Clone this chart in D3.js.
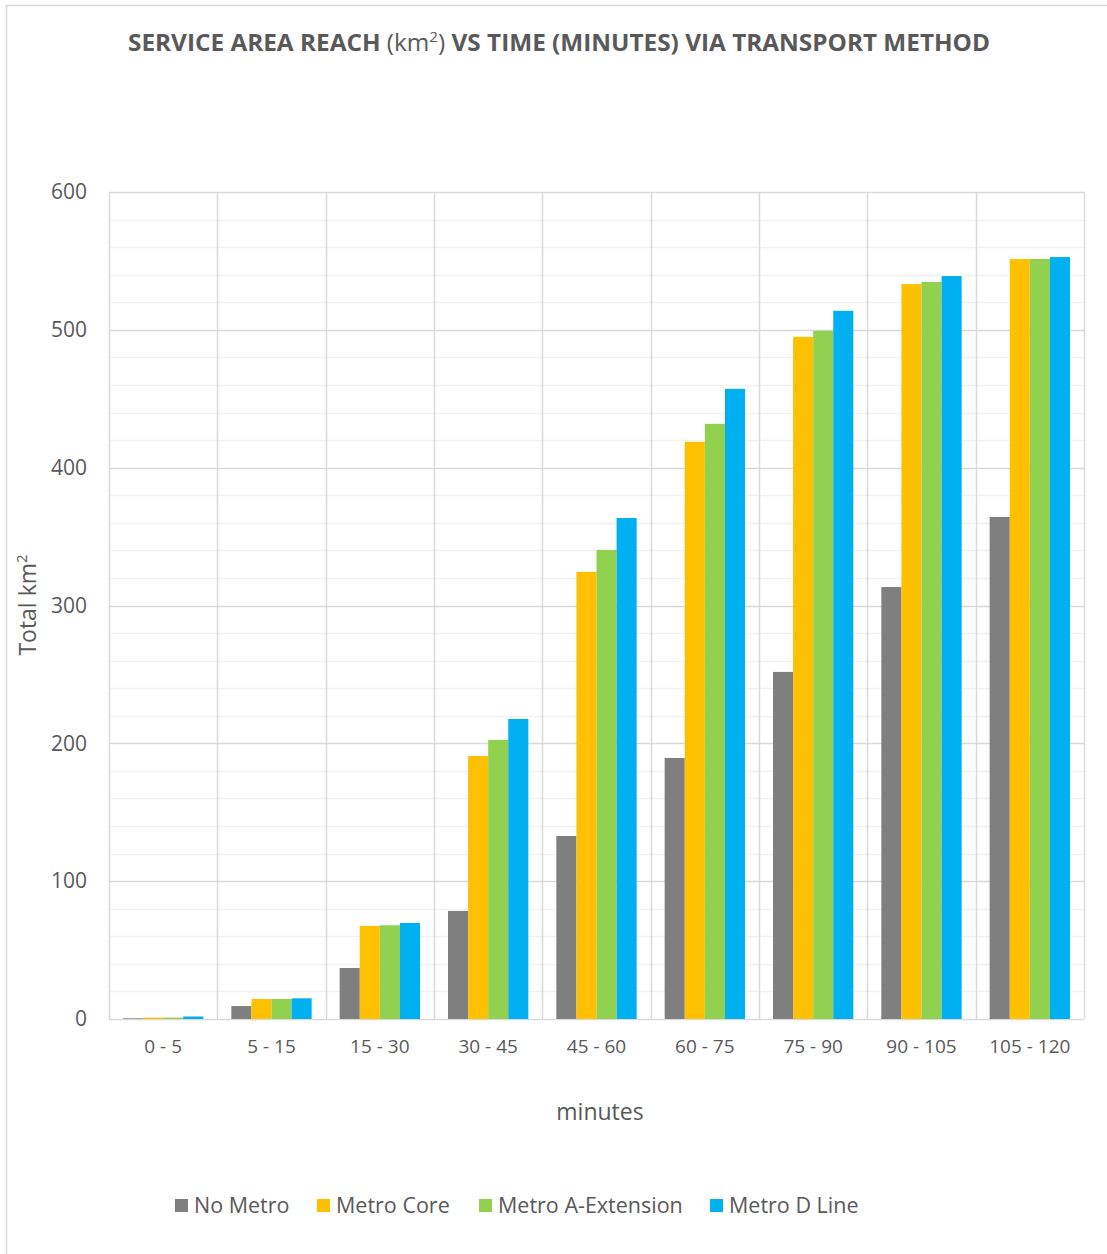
<!DOCTYPE html>
<html><head>
<script src="https://d3js.org/d3.v7.min.js"></script>
<style>
body { margin: 0; background: white; }
svg text { font-family: "Open Sans", sans-serif; fill: #595959; }
</style>
</head><body>
<svg id="chart"></svg>
<script>
var categories = ["0 - 5","5 - 15","15 - 30","30 - 45","45 - 60","60 - 75","75 - 90","90 - 105","105 - 120"];
var seriesNames = ["No Metro","Metro Core","Metro A-Extension","Metro D Line"];
var seriesColors = ["#7f7f7f","#ffc000","#92d050","#00b0f0"];
var noMetro   = [0.5, 9.4, 37, 78.4, 132.8, 189.4, 251.8, 313.4, 364.2];
var metroCore = [1, 14.5, 67.5, 190.8, 324.4, 418.7, 494.9, 533.2, 551.4];
var metroA    = [1, 14.5, 68, 202.5, 340.3, 431.8, 499.3, 534.7, 551.4];
var metroD    = [1.8, 15, 69.7, 217.7, 363.5, 457.2, 513.8, 539, 552.8];
var yTicks = [0,100,200,300,400,500,600];

var series = [noMetro, metroCore, metroA, metroD];
var W = 1107, H = 1254;
var plotL = 109, plotR = 1084, plotT = 192, plotB = 1019;

var svg = d3.select("#chart").attr("width", W).attr("height", H);

// outer border (only left/top edges fall inside the picture)
svg.append("rect").attr("x",6.5).attr("y",5.5).attr("width",1200).attr("height",1300)
  .attr("fill","none").attr("stroke","#d9d9d9").attr("stroke-width",1.5);

var x = d3.scaleBand().domain(categories).range([plotL, plotR]).paddingInner(0).paddingOuter(0);
var xs = d3.scaleBand().domain(d3.range(4)).range([14, x.bandwidth() - 14]);
var y = d3.scaleLinear().domain([0,600]).range([plotB, plotT]);

// minor gridlines
svg.append("g").selectAll("line").data(d3.range(20,600,20).filter(function(v){return v%100!==0;}))
  .enter().append("line")
  .attr("x1",plotL).attr("x2",plotR).attr("y1",function(d){return Math.round(y(d))+0.5;}).attr("y2",function(d){return Math.round(y(d))+0.5;})
  .attr("stroke","#f2f2f2").attr("stroke-width",1.5);
// major gridlines
svg.append("g").selectAll("line").data(yTicks)
  .enter().append("line")
  .attr("x1",plotL).attr("x2",plotR).attr("y1",function(d){return Math.round(y(d))+0.5;}).attr("y2",function(d){return Math.round(y(d))+0.5;})
  .attr("stroke","#d9d9d9").attr("stroke-width",1.5);
// vertical category lines
var xb = categories.map(function(c){return x(c);}).concat([plotR]);
svg.append("g").selectAll("line").data(xb)
  .enter().append("line")
  .attr("x1",function(d){return Math.round(d)+0.5;}).attr("x2",function(d){return Math.round(d)+0.5;})
  .attr("y1",plotT).attr("y2",plotB)
  .attr("stroke","#d9d9d9").attr("stroke-width",1.5);

// bars
var g = svg.append("g");
series.forEach(function(vals, si){
  g.selectAll(".s"+si).data(vals).enter().append("rect")
    .attr("x", function(d,i){ return x(categories[i]) + xs(si); })
    .attr("width", xs.bandwidth())
    .attr("y", function(d){ return y(d); })
    .attr("height", function(d){ return y(0) - y(d); })
    .attr("fill", seriesColors[si]);
});

// axes
var yAxis = svg.append("g").attr("transform","translate(" + plotL + ",0)")
  .call(d3.axisLeft(y).tickValues(yTicks).tickSize(0).tickPadding(22));
yAxis.select(".domain").remove();
yAxis.selectAll("text").style("font-size","21px").attr("fill","#595959");

var xAxis = svg.append("g").attr("transform","translate(0," + plotB + ")")
  .call(d3.axisBottom(x).tickSize(0).tickPadding(21));
xAxis.select(".domain").remove();
xAxis.selectAll("text").style("font-size","19px").attr("fill","#595959");

// title
var t = svg.append("text").attr("x", 559).attr("y", 51).attr("text-anchor","middle")
  .style("font-size","24px").attr("textLength", 862).attr("lengthAdjust","spacingAndGlyphs");
t.append("tspan").style("font-weight","bold").text("SERVICE AREA REACH ");
t.append("tspan").text("(km");
t.append("tspan").attr("dy",-9).style("font-size","15px").text("2");
t.append("tspan").attr("dy",9).text(")");
t.append("tspan").style("font-weight","bold").text(" VS TIME (MINUTES) VIA TRANSPORT METHOD");

// axis titles
svg.append("text").attr("x", 600).attr("y", 1120).attr("text-anchor","middle")
  .style("font-size","23px").text("minutes");
var yt = svg.append("text").attr("transform","translate(36,605) rotate(-90)").attr("text-anchor","middle")
  .style("font-size","23px");
yt.append("tspan").text("Total km");
yt.append("tspan").attr("dy",-9).style("font-size","15px").text("2");

// legend
var legX = [175, 317, 479, 710];
var leg = svg.append("g").selectAll("g").data(seriesNames).enter().append("g")
  .attr("transform", function(d,i){ return "translate(" + legX[i] + ",1199)"; });
leg.append("rect").attr("width",13).attr("height",13).attr("fill", function(d,i){ return seriesColors[i]; });
leg.append("text").attr("x",19).attr("y",14).style("font-size","21.5px").text(function(d){return d;});
</script>
</body></html>
